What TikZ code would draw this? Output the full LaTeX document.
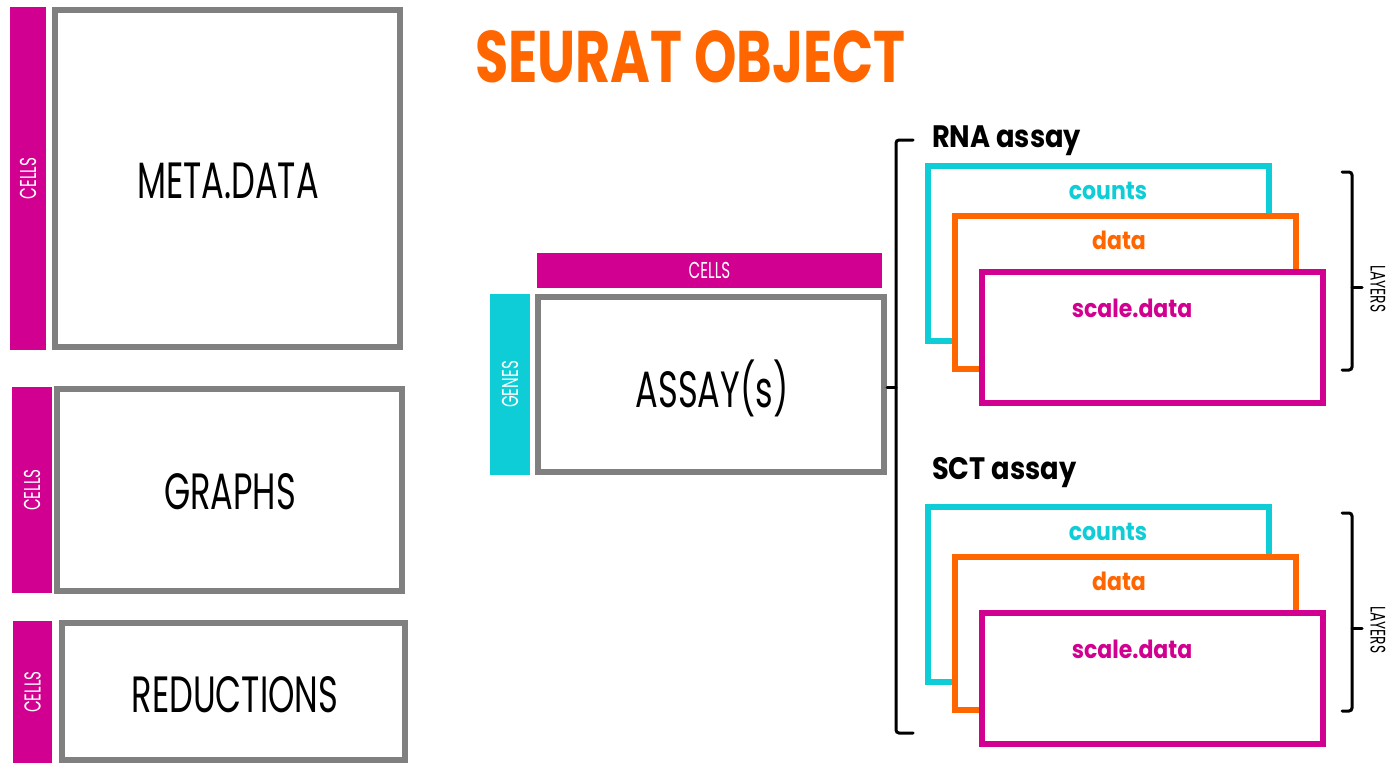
\documentclass[tikz,border=0pt]{standalone}
\usepackage{fontspec}
\setmainfont[FakeStretch=0.66]{Poppins}
\newfontfamily\titlefont[FakeStretch=0.74]{Poppins}
\newfontfamily\labfont[FakeStretch=0.88]{Poppins}
\definecolor{mag}{RGB}{210,0,144}
\definecolor{cyn}{RGB}{14,205,215}
\definecolor{org}{RGB}{255,102,0}
\definecolor{gry}{RGB}{128,128,128}
\tikzset{
  slot/.style={draw=gry, line width=6pt, fill=white, inner sep=0pt},
  slottext/.style={inner sep=0pt, font=\fontsize{51}{51}\selectfont},
  tag/.style={inner sep=0pt, text=white, font=\fontsize{23}{23}\selectfont},
  layerbox/.style={draw=#1, line width=6pt, fill=white, inner sep=0pt,
    minimum width=341pt},
  layername/.style={text=#1, inner sep=0pt, font=\labfont\fontsize{25}{25}\selectfont\bfseries},
  assayname/.style={anchor=base west, inner sep=0pt, font=\labfont\fontsize{31}{31}\selectfont\bfseries},
  brk/.style={draw=black, line width=3pt, rounded corners=3pt, line cap=round},
}
\begin{document}
\begin{tikzpicture}[x=1pt,y=-1pt]
\useasboundingbox (0,0) rectangle (1395,763);

% title
\node[anchor=base west, inner sep=0pt, text=org,
  font=\titlefont\fontsize{73}{73}\selectfont\bfseries] (title) at (475,82) {SEURAT OBJECT};

% left column: meta.data, graphs, reductions
\node[tag, fill=mag, rotate=90, minimum width=343pt, minimum height=36pt] (mdcells) at (28,178.5) {CELLS};
\node[slot, minimum width=345pt, minimum height=337pt] (meta) at (227.5,178.5) {};
\node[slottext] (metatxt) at (228,181) {META.DATA};

\node[tag, fill=mag, rotate=90, minimum width=206pt, minimum height=40pt] (grcells) at (32,490) {CELLS};
\node[slot, minimum width=345pt, minimum height=202pt] (graphs) at (229.5,490) {};
\node[slottext] (graphstxt) at (230,492) {GRAPHS};

\node[tag, fill=mag, rotate=90, minimum width=142pt, minimum height=39pt] (rdcells) at (32.5,692) {CELLS};
\node[slot, minimum width=343pt, minimum height=137pt] (red) at (233.5,691.5) {};
\node[slottext] (redtxt) at (235,695) {REDUCTIONS};

% assay block
\node[tag, fill=mag, minimum width=345pt, minimum height=35pt] (ascells) at (709.5,270.5) {CELLS};
\node[tag, fill=cyn, rotate=90, minimum width=181pt, minimum height=40pt] (genes) at (510,384.5) {GENES};
\node[slot, minimum width=346pt, minimum height=175pt] (assay) at (711,384.5) {};
\node[slottext] (assaytxt) at (712,388) {ASSAY(s)};

% bracket gathering the assays
\coordinate (bt) at (913,140);
\coordinate (bb) at (913,733);
\coordinate (bm) at (896,387);
\draw[brk] (bt) -- (896,140) -- (896,733) -- (bb);
\draw[brk, rounded corners=0pt] (bm) -- (assay.east |- bm);

% assay names
\node[assayname] (rna) at (932,147) {RNA assay};
\node[assayname] (sct) at (932,479) {SCT assay};

% stacked layers of each assay
\foreach \p/\dy in {rna/0, sct/341}{
  \node[layerbox=cyn, minimum height=175pt] (\p-c) at (1098.5,253.5+\dy) {};
  \node[layername=cyn] (\p-ct) at (1108,191+\dy) {counts};
  \node[layerbox=org, minimum height=153pt] (\p-d) at (1125.5,292.5+\dy) {};
  \node[layername=org] (\p-dt) at (1119,240+\dy) {data};
  \node[layerbox=mag, minimum height=131pt] (\p-s) at (1152.5,337.5+\dy) {};
  \node[layername=mag] (\p-st) at (1132,308+\dy) {scale.data};
  \coordinate (\p-lt) at (1342,172+\dy);
  \coordinate (\p-lb) at (1342,370+\dy);
  \coordinate (\p-lm) at (1362,287+\dy);
  \draw[brk] (\p-lt) -- (1352,172+\dy) -- (1352,370+\dy) -- (\p-lb);
  \draw[brk, rounded corners=0pt] (1352,287+\dy) -- (\p-lm);
  \node[rotate=-90, inner sep=0pt, font=\fontsize{21}{21}\selectfont] (\p-layers) at (1378,289+\dy) {LAYERS};
}
\end{tikzpicture}
\end{document}
